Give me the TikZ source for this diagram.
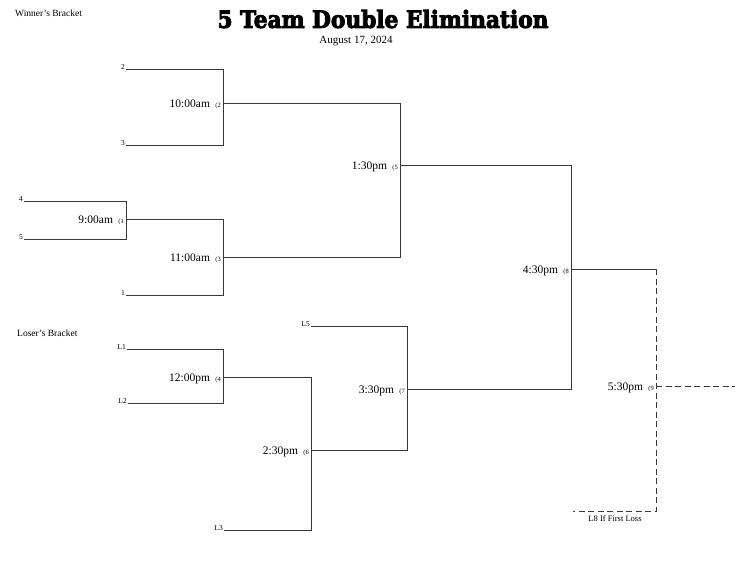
\documentclass[tikz,border=0pt]{standalone}
\usepackage{fontspec}
\setmainfont{Liberation Serif}
\newfontfamily\titlefont{DejaVu Serif}[BoldFeatures={FakeBold=4}]
\usepackage{graphicx}
\usepackage{tikz}
\usetikzlibrary{positioning}

\begin{document}
\begin{tikzpicture}[
    x=1pt, y=-1pt,
    bracket/.style={line width=1pt, draw=black!78},
    dashline/.style={bracket, dash pattern=on 6pt off 3.5pt},
    team/.style={anchor=base east, inner sep=1pt, font=\fontsize{7.5}{8}\selectfont},
    gamenum/.style={anchor=base east, inner sep=0pt, font=\fontsize{6.5}{7}\selectfont},
    gametime/.style={anchor=base east, inner sep=0pt, font=\fontsize{11.5}{13}\selectfont},
    note/.style={anchor=base west, inner sep=0pt, font=\fontsize{9.5}{11}\selectfont},
]
    \useasboundingbox (0,0) rectangle (752,581);

    % Heading
    \node (title) at (383,19) {\resizebox{331pt}{18pt}{\titlefont\bfseries 5 Team Double Elimination}};
    \node[font=\fontsize{11}{13}\selectfont] (date) at (356,41) {August 17, 2024};
    \node[note] (winners) at (15,16) {Winner's Bracket};
    \node[note] (losers) at (17,336) {Loser's Bracket};

    % Entry lines
    \foreach \n/\x/\y/\lbl in {s2/126/69/2, s3/126/145/3, s4/24/201/4, s5/24/239/5,
                              s1/126/295/1, sL1/127/349/L1, sL2/128/403/L2,
                              sL3/224/530/L3, sL5/311/326/L5} {
        \coordinate (\n) at (\x,\y);
        \node[team] (\n lbl) at (\n) {\lbl};
    }

    % Games
    \foreach \n/\x/\y/\tm/\k in {g1/126/219/9:00am/1, g2/223/103/10:00am/2,
                                g3/223/257/11:00am/3, g4/223/377/12:00pm/4,
                                g5/400/165/1:30pm/5, g6/311/450/2:30pm/6,
                                g7/407/389/3:30pm/7, g8/571/269/4:30pm/8,
                                g9/656/386/5:30pm/9} {
        \coordinate (\n) at (\x,\y);
        \node[gamenum] (\n num) at ([xshift=-2pt, yshift=-4pt]\n) {(\k};
        \node[gametime] (\n time) at ([xshift=-5pt]\n num.base west) {\tm};
    }

    % Winner's bracket
    \draw[bracket] (s2) -| (g2);
    \draw[bracket] (s3) -| (g2);
    \draw[bracket] (s4) -| (g1);
    \draw[bracket] (s5) -| (g1);
    \draw[bracket] (g1) -| (g3);
    \draw[bracket] (s1) -| (g3);
    \draw[bracket] (g2) -| (g5);
    \draw[bracket] (g3) -| (g5);

    % Loser's bracket
    \draw[bracket] (sL1) -| (g4);
    \draw[bracket] (sL2) -| (g4);
    \draw[bracket] (g4) -| (g6);
    \draw[bracket] (sL3) -| (g6);
    \draw[bracket] (g6) -| (g7);
    \draw[bracket] (sL5) -| (g7);

    % Finals
    \draw[bracket] (g5) -| (g8);
    \draw[bracket] (g7) -| (g8);
    \coordinate (c9) at (656,269);
    \coordinate (d9) at (656,511);
    \coordinate (e9) at (573,511);
    \coordinate (w9) at (735,386);
    \draw[bracket] (g8) -- (c9);
    \draw[dashline] (c9) -- (d9) -- (e9);
    \draw[dashline] (g9) -- (w9);
    \node[anchor=base, inner sep=0pt, font=\fontsize{8.5}{10}\selectfont] (l8) at (615,521) {L8 If First Loss};
\end{tikzpicture}
\end{document}
